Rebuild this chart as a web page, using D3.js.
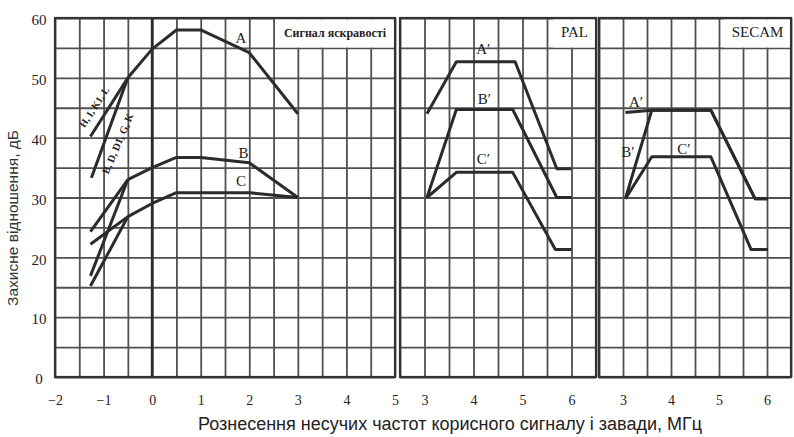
<!DOCTYPE html>
<html>
<head>
<meta charset="utf-8">
<script src="https://cdn.jsdelivr.net/npm/d3@7"></script>
<style>
  body { margin: 0; background: #fff; }
  svg { display: block; }
  .grid line { stroke: #505050; stroke-width: 1.8; }
  .grid path { display: none; }
  .frame { fill: none; stroke: #333; stroke-width: 2.2; }
  .curve { fill: none; stroke: #2b2b2b; stroke-width: 3; stroke-linejoin: round; }
  .lbl { font-family: "Liberation Serif", serif; fill: #222; }
</style>
</head>
<body>
<div id="chart"></div>
<script>
// svg size
let svgWidth = 794;
let svgHeight = 437;

// ---- data (MHz, dB) ----
// luminance panel
let lumaA = [[-0.5, 50], [0, 54.8], [0.5, 58], [1, 58], [2, 54.2], [3, 44]];
let lumaB = [[-0.5, 33], [0, 35], [0.5, 36.7], [1, 36.7], [2, 35.8], [3, 30]];
let lumaC = [[-0.5, 26.8], [0, 29], [0.5, 30.8], [2, 30.8], [3, 30]];
// starting points of the low-frequency branches for A, B, C
let startHIKL = [[-1.27, 40.2], [-1.27, 24.3], [-1.27, 22.2]];
let startBDGK = [[-1.25, 33.3], [-1.27, 16.9], [-1.27, 15.2]];

// PAL panel
let palA = [[3.05, 44], [3.65, 52.7], [4.85, 52.7], [5.7, 34.8], [6.0, 34.8]];
let palB = [[3.05, 30], [3.65, 44.7], [4.8, 44.7], [5.7, 30], [6.0, 30]];
let palC = [[3.05, 30], [3.65, 34.2], [4.8, 34.2], [5.67, 21.3], [6.0, 21.3]];

// SECAM panel
let secamA = [[3.05, 44.2], [3.6, 44.6], [4.83, 44.6], [5.75, 29.8], [6.02, 29.8]];
let secamB = [[3.05, 29.8], [3.6, 44.6], [4.83, 44.6], [5.75, 29.8], [6.02, 29.8]];
let secamC = [[3.05, 29.8], [3.6, 36.8], [4.83, 36.8], [5.67, 21.3], [6.02, 21.3]];

// tick values
let lumaTicks = [-2, -1, 0, 1, 2, 3, 4, 5];
let chromaTicks = [3, 4, 5, 6];
let dbTicks = [0, 10, 20, 30, 40, 50, 60];

// curve labels [text, x, y]
let lumaLabels = [['A', 1.83, 55.8], ['B', 1.88, 36.6], ['C', 1.83, 32]];
let palLabels = [['A\u2032', 4.2, 54], ['B\u2032', 4.22, 45.6], ['C\u2032', 4.2, 35.6]];
let secamLabels = [['A\u2032', 3.27, 45.1], ['B\u2032', 3.1, 36.7], ['C\u2032', 4.27, 37.3]];

// ---- layout ----
let plotTop = 18, plotBottom = 377;

let svg = d3.select('#chart')
    .append('svg')
    .attr('width', svgWidth)
    .attr('height', svgHeight);

let yScale = d3.scaleLinear().domain([0, 60]).range([plotBottom, plotTop]);

let panels = [
    { domain: [-2, 5], range: [55, 395], ticks: lumaTicks, curves: [lumaA, lumaB, lumaC], labels: lumaLabels, title: 'Сигнал яскравості', box: [275, 395] },
    { domain: [2.5, 6.5], range: [400, 596], ticks: chromaTicks, curves: [palA, palB, palC], labels: palLabels, title: 'PAL', box: [553, 596] },
    { domain: [2.5, 6.5], range: [599, 791], ticks: chromaTicks, curves: [secamA, secamB, secamC], labels: secamLabels, title: 'SECAM', box: [724, 791] }
];

panels.forEach((p, i) => {
    let x = d3.scaleLinear().domain(p.domain).range(p.range);
    let w = p.range[1] - p.range[0];
    let g = svg.append('g');

    // vertical grid every 0.5 MHz
    g.append('g')
        .attr('class', 'grid')
        .attr('transform', `translate(0, ${plotBottom})`)
        .call(d3.axisBottom(x).tickValues(d3.range(p.domain[0], p.domain[1] + 0.01, 0.5)).tickSize(-(plotBottom - plotTop)).tickFormat(''));

    // horizontal grid every 5 dB
    g.append('g')
        .attr('class', 'grid')
        .attr('transform', `translate(${p.range[0]}, 0)`)
        .call(d3.axisLeft(yScale).tickValues(d3.range(0, 61, 5)).tickSize(-w).tickFormat(''));

    // zero carrier spacing line is heavier
    if (i === 0) {
        g.append('line')
            .attr('x1', x(0)).attr('x2', x(0))
            .attr('y1', plotTop).attr('y2', plotBottom)
            .attr('stroke', '#2a2a2a').attr('stroke-width', 2.6);
    }

    g.append('rect')
        .attr('class', 'frame')
        .attr('x', p.range[0]).attr('y', plotTop)
        .attr('width', w).attr('height', plotBottom - plotTop);

    // title box
    g.append('rect')
        .attr('x', p.box[0]).attr('y', plotTop + 1.5)
        .attr('width', p.box[1] - p.box[0] - 1.5).attr('height', 28)
        .attr('fill', '#fff');
    g.append('text')
        .attr('class', 'lbl')
        .attr('x', (p.box[0] + p.box[1]) / 2)
        .attr('y', 37)
        .attr('text-anchor', 'middle')
        .attr('font-size', i === 0 ? '12px' : '15px')
        .attr('font-weight', i === 0 ? 'bold' : 'normal')
        .text(p.title);

    // tick labels
    let axis = g.append('g')
        .attr('transform', `translate(0, ${plotBottom})`)
        .call(d3.axisBottom(x).tickValues(p.ticks).tickSize(0).tickPadding(18).tickFormat(d3.format('d')))
        .attr('font-family', '"Liberation Serif", serif')
        .attr('font-size', 14);
    axis.select('.domain').remove();
    axis.selectAll('text').attr('fill', '#222');

    let line = d3.line().x(d => x(d[0])).y(d => yScale(d[1]));

    p.curves.forEach(c => {
        g.append('path').attr('class', 'curve').attr('d', line(c));
    });

    if (i === 0) {
        // low-frequency branches for the two system groups
        p.curves.forEach((c, k) => {
            g.append('path').attr('class', 'curve').attr('d', line([startHIKL[k], c[0]]));
            g.append('path').attr('class', 'curve').attr('d', line([startBDGK[k], c[0]]));
        });
        g.append('text')
            .attr('class', 'lbl')
            .attr('font-size', '10px')
            .attr('font-weight', 'bold')
            .attr('text-anchor', 'middle')
            .attr('transform', 'translate(97, 109) rotate(-57)')
            .text('H, I, K1, L');
        g.append('text')
            .attr('class', 'lbl')
            .attr('font-size', '10.5px')
            .attr('font-weight', 'bold')
            .attr('text-anchor', 'middle')
            .attr('transform', 'translate(121, 145) rotate(-67)')
            .text('B, D, D1, G, K');
    }

    // curve letters
    p.labels.forEach(l => {
        g.append('text')
            .attr('class', 'lbl')
            .attr('x', x(l[1])).attr('y', yScale(l[2]))
            .attr('text-anchor', 'middle')
            .attr('font-size', '15px')
            .text(l[0]);
    });
});

// y tick labels
let yAxis = svg.append('g')
    .attr('transform', 'translate(39, 0)')
    .call(d3.axisLeft(yScale).tickValues(dbTicks).tickSize(0).tickPadding(0))
    .attr('font-family', '"Liberation Serif", serif')
    .attr('font-size', 15);
yAxis.select('.domain').remove();
yAxis.selectAll('text').attr('text-anchor', 'middle').attr('dy', '0.45em').attr('fill', '#222');

// axis titles
svg.append('text')
    .attr('transform', 'translate(18, 218) rotate(-90)')
    .attr('text-anchor', 'middle')
    .attr('font-family', '"Liberation Sans", sans-serif')
    .attr('font-size', '15.5px')
    .attr('fill', '#333')
    .text('Захисне відношення, дБ');

svg.append('text')
    .attr('x', 450).attr('y', 430)
    .attr('text-anchor', 'middle')
    .attr('font-family', '"Liberation Sans", sans-serif')
    .attr('font-size', '18px')
    .attr('fill', '#222')
    .text('Рознесення несучих частот корисного сигналу і завади, МГц');
</script>
</body>
</html>
